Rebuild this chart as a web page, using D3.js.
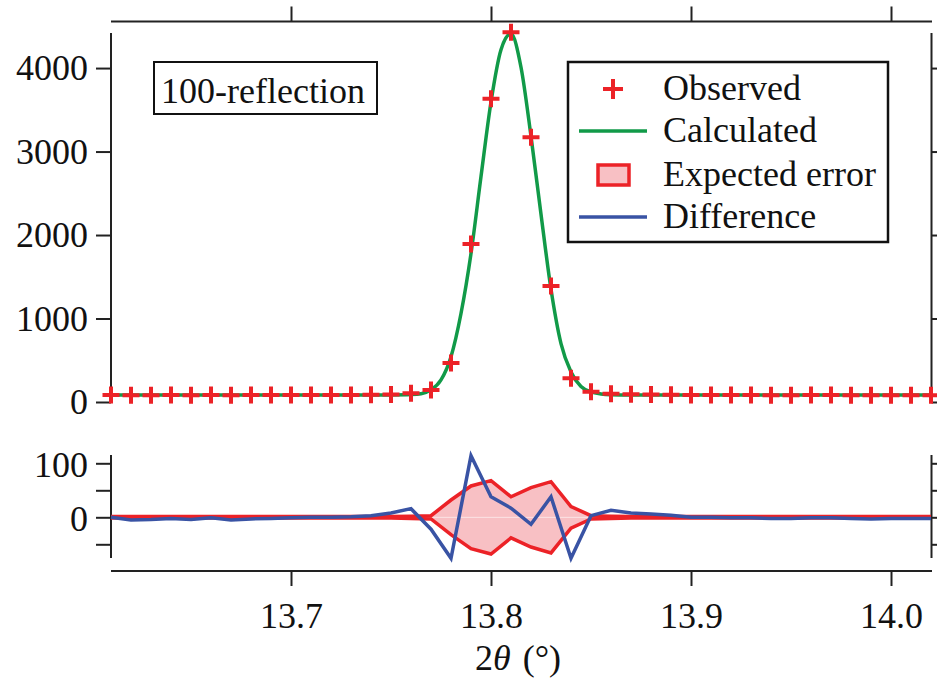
<!DOCTYPE html>
<html>
<head>
<meta charset="utf-8">
<script src="https://cdn.jsdelivr.net/npm/d3@7"></script>
<style>
  body { margin: 0; background: #fff; }
</style>
</head>
<body>
<svg id="chart" width="937" height="686"></svg>
<script>
// 2theta grid of the measured points
const twoTheta = [13.61, 13.62, 13.63, 13.64, 13.65, 13.66, 13.67, 13.68, 13.69, 13.70,
  13.71, 13.72, 13.73, 13.74, 13.75, 13.76, 13.77, 13.78, 13.79, 13.80,
  13.81, 13.82, 13.83, 13.84, 13.85, 13.86, 13.87, 13.88, 13.89, 13.90,
  13.91, 13.92, 13.93, 13.94, 13.95, 13.96, 13.97, 13.98, 13.99, 14.00,
  14.01, 14.02];
// observed intensity
const observed = [84, 81, 82, 83, 82, 84, 81, 83, 83, 84,
  84, 84, 84, 86, 91, 106, 144, 467, 1892, 3632,
  4428, 3170, 1389, 284, 123, 100, 92, 89, 87, 84,
  84, 83, 83, 82, 82, 83, 83, 82, 81, 82,
  82, 82];
// observed - calculated
const difference = [0, -5, -4, -2, -4, -1, -5, -3, -2, -1,
  0, 0, 1, 3, 8, 16, -22, -76, 114, 38,
  17, -13, 38, -76, 3, 13, 8, 6, 4, 0,
  0, -1, -1, -2, -2, -1, -1, -2, -3, -2,
  -2, -2];
// expected error (+/-)
const expectedError = [1.5, 1.5, 1.5, 1.5, 1.5, 1.5, 1.5, 1.5, 1.5, 1.5,
  1.5, 1.5, 1.5, 1.5, 1.5, 2, 3, 32, 58, 68,
  38, 55, 66, 20, 3, 2, 1.5, 1.5, 1.5, 1.5,
  1.5, 1.5, 1.5, 1.5, 1.5, 1.5, 1.5, 1.5, 1.5, 1.5,
  1.5, 1.5];
// calculated profile (finer sampling around the peak)
const calcTheta = [13.61, 13.65, 13.70, 13.74, 13.75, 13.76, 13.765, 13.77, 13.775, 13.78,
  13.785, 13.79, 13.795, 13.80, 13.805, 13.81, 13.815, 13.82, 13.825, 13.83,
  13.835, 13.84, 13.845, 13.85, 13.855, 13.86, 13.87, 13.90, 14.00, 14.02];
const calcIntensity = [84, 84, 84, 84, 85, 90, 100, 145, 265, 543,
  1060, 1778, 2700, 3594, 4220, 4411, 4010, 3183, 2250, 1351,
  700, 360, 185, 120, 96, 88, 85, 84, 84, 84];

const xTicks = [13.7, 13.8, 13.9, 14.0];
const xTickLabels = ['13.7', '13.8', '13.9', '14.0'];
const yTicksTop = [0, 1000, 2000, 3000, 4000];
const yTicksBottom = [-50, 0, 50, 100];
const yLabelsBottom = [0, 100];
const legendLabels = ['Observed', 'Calculated', 'Expected error', 'Difference'];

const RED = '#ec2227', GREEN = '#119a48', BLUE = '#3953a4', PINK = '#f8c0c4', INK = '#222';
const FONT = "'Liberation Serif', Tinos, 'Noto Serif', 'DejaVu Serif', FreeSerif, 'Nimbus Roman', 'Times New Roman', Times, serif";

const svg = d3.select('#chart');

// scales
const x = d3.scaleLinear().domain([13.61, 14.02]).range([111, 931]);
const yTop = d3.scaleLinear().domain([0, 4420]).range([402, 33]);
const yBot = d3.scaleLinear().domain([-75, 115]).range([557.8, 455.2]);

const tickLen = 15;

// axis helper: ticks + labels only, the axis lines are drawn separately (offset axes)
function drawAxis(axis, tx, ty) {
  const g = svg.append('g').attr('transform', `translate(${tx},${ty})`).call(axis);
  g.attr('font-family', FONT).attr('font-size', 36);
  g.select('.domain').remove();
  g.selectAll('.tick line').attr('stroke', INK).attr('stroke-width', 2);
  g.selectAll('.tick text').attr('fill', '#111');
  return g;
}

function vline(xp, y1, y2) {
  svg.append('line').attr('x1', xp).attr('x2', xp).attr('y1', y1).attr('y2', y2)
    .attr('stroke', INK).attr('stroke-width', 2);
}
function hline(yp, x1, x2) {
  svg.append('line').attr('x1', x1).attr('x2', x2).attr('y1', yp).attr('y2', yp)
    .attr('stroke', INK).attr('stroke-width', 2);
}

// ---- top panel ----
vline(111, 33, 402);
const gl = drawAxis(d3.axisLeft(yTop).tickValues(yTicksTop).tickSize(tickLen).tickPadding(8).tickFormat(d3.format('d')), 111, 0);
gl.selectAll('.tick text').attr('dy', '0.33em');
vline(931.5, 33, 402);
drawAxis(d3.axisRight(yTop).tickValues(yTicksTop).tickSize(tickLen).tickFormat(''), 931.5, 0);
hline(21.5, 111, 932);
drawAxis(d3.axisTop(x).tickValues(xTicks).tickSize(tickLen).tickFormat(''), 0, 21.5);

// calculated line
const calcPts = calcTheta.map((t, i) => [t, calcIntensity[i]]);
svg.append('path')
  .datum(calcPts)
  .attr('fill', 'none')
  .attr('stroke', GREEN)
  .attr('stroke-width', 3.5)
  .attr('d', d3.line().x(d => x(d[0])).y(d => yTop(d[1])).curve(d3.curveMonotoneX));

// observed markers
const plus = (cx, cy, s) => `M${cx - s},${cy}H${cx + s}M${cx},${cy - s}V${cy + s}`;
svg.append('g').selectAll('path')
  .data(twoTheta.map((t, i) => [t, observed[i]]))
  .enter().append('path')
  .attr('d', d => plus(x(d[0]), yTop(d[1]), 8.5))
  .attr('stroke', RED)
  .attr('stroke-width', 4)
  .attr('fill', 'none');

// annotation box
const note = svg.append('g');
note.append('rect').attr('x', 154).attr('y', 62).attr('width', 223).attr('height', 52)
  .attr('fill', '#fff').attr('stroke', '#111').attr('stroke-width', 2);
note.append('text').attr('x', 161).attr('y', 103)
  .attr('font-family', FONT).attr('font-size', 36).attr('fill', '#111')
  .text('100-reflection');

// legend
const lg = svg.append('g');
lg.append('rect').attr('x', 568).attr('y', 62).attr('width', 320).attr('height', 180)
  .attr('fill', '#fff').attr('stroke', '#111').attr('stroke-width', 2.5);
const rowY = [89, 131, 175, 217];
lg.append('path').attr('d', plus(613, rowY[0], 10)).attr('stroke', RED).attr('stroke-width', 4).attr('fill', 'none');
lg.append('line').attr('x1', 579).attr('x2', 647).attr('y1', rowY[1]).attr('y2', rowY[1])
  .attr('stroke', GREEN).attr('stroke-width', 3.5);
lg.append('rect').attr('x', 598).attr('y', rowY[2] - 10).attr('width', 31).attr('height', 20)
  .attr('fill', PINK).attr('stroke', RED).attr('stroke-width', 3.5);
lg.append('line').attr('x1', 579).attr('x2', 647).attr('y1', rowY[3]).attr('y2', rowY[3])
  .attr('stroke', BLUE).attr('stroke-width', 3.5);
lg.append('g').attr('font-family', FONT).attr('font-size', 36).attr('fill', '#111')
  .selectAll('text')
  .data(legendLabels)
  .enter().append('text')
  .attr('x', 663)
  .attr('y', (d, i) => rowY[i] + 11)
  .text(d => d);

// ---- bottom panel ----
vline(111, 455, 558);
const gbl = drawAxis(d3.axisLeft(yBot).tickValues(yTicksBottom).tickSize(tickLen).tickPadding(8)
  .tickFormat(d => yLabelsBottom.includes(d) ? d : ''), 111, 0);
gbl.selectAll('.tick text').attr('dy', '0.36em');
vline(931.5, 455, 558);
drawAxis(d3.axisRight(yBot).tickValues(yTicksBottom).tickSize(tickLen).tickFormat(''), 931.5, 0);

// bottom x axis (offset below the plot)
hline(571, 111, 932);
drawAxis(d3.axisBottom(x).tickValues(xTicks).tickSize(tickLen).tickPadding(16)
  .tickFormat((d, i) => xTickLabels[i]), 0, 571);

// expected error band, drawn as two halves like the original
const errPts = twoTheta.map((t, i) => ({ t, e: expectedError[i] }));
svg.append('path').datum(errPts)
  .attr('fill', PINK)
  .attr('d', d3.area().x(d => x(d.t)).y0(yBot(0)).y1(d => yBot(d.e)));
svg.append('path').datum(errPts)
  .attr('fill', PINK)
  .attr('d', d3.area().x(d => x(d.t)).y0(yBot(0)).y1(d => yBot(-d.e)));
svg.append('line').attr('x1', x(13.77)).attr('x2', x(13.85)).attr('y1', yBot(0)).attr('y2', yBot(0))
  .attr('stroke', '#fff').attr('stroke-opacity', 0.45).attr('stroke-width', 1);
svg.append('path').datum(errPts)
  .attr('fill', 'none').attr('stroke', RED).attr('stroke-width', 3.5)
  .attr('d', d3.line().x(d => x(d.t)).y(d => yBot(d.e)));
svg.append('path').datum(errPts)
  .attr('fill', 'none').attr('stroke', RED).attr('stroke-width', 3.5)
  .attr('d', d3.line().x(d => x(d.t)).y(d => yBot(-d.e)));

// difference
svg.append('path')
  .datum(twoTheta.map((t, i) => [t, difference[i]]))
  .attr('fill', 'none')
  .attr('stroke', BLUE)
  .attr('stroke-width', 3.5)
  .attr('d', d3.line().x(d => x(d[0])).y(d => yBot(d[1])));

// x axis title
const title = svg.append('text').attr('x', 475).attr('y', 670)
  .attr('font-family', FONT).attr('font-size', 36).attr('fill', '#111');
title.append('tspan').text('2');
title.append('tspan').attr('font-style', 'italic').text('θ');
title.append('tspan').attr('dx', 12).text('(°)');
</script>
</body>
</html>
